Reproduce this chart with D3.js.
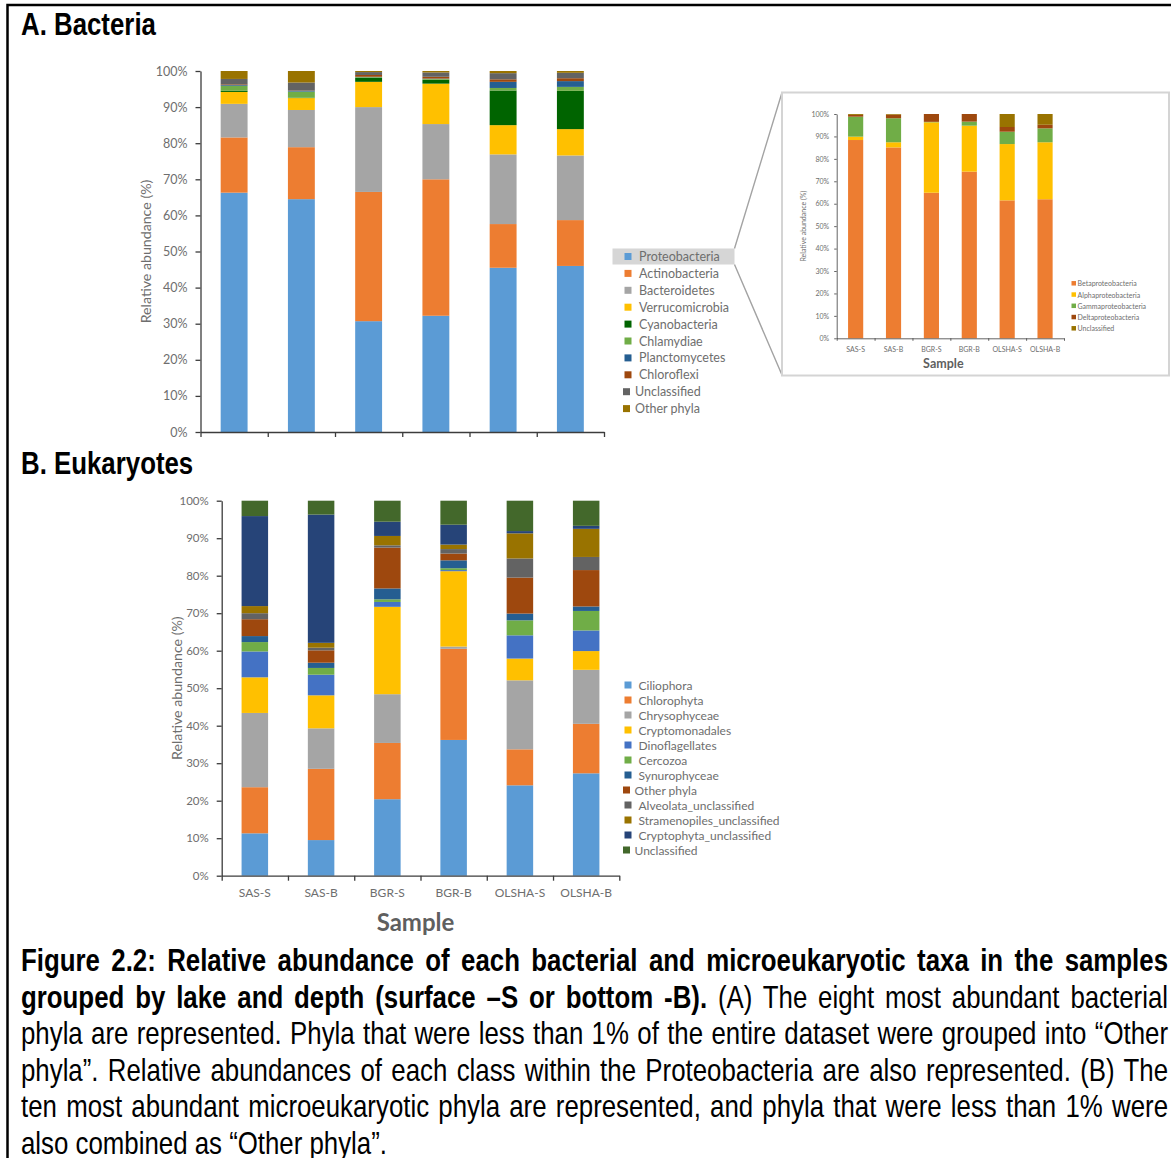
<!DOCTYPE html>
<html>
<head>
<meta charset="utf-8">
<script src="https://cdn.jsdelivr.net/npm/d3@7"></script>
<style>
  html, body { margin: 0; padding: 0; background: #fff; }
  svg { display: block; }
  .chart text { font-family: Lato, "Open Sans", sans-serif; fill: #6e6e6e; }
  .axis .domain, .axis line { stroke: #3c3c3c; stroke-width: 1.3; }
  .caption, .heading { font-family: "Liberation Sans", Arial, sans-serif; fill: #000; }
</style>
</head>
<body>
<svg id="fig" width="1171" height="1158"></svg>
<script>
// ---- data -------------------------------------------------------------
const samples = ["SAS-S", "SAS-B", "BGR-S", "BGR-B", "OLSHA-S", "OLSHA-B"];
const yTicks = [0, 10, 20, 30, 40, 50, 60, 70, 80, 90, 100];

const bacteriaPhyla = ["Proteobacteria", "Actinobacteria", "Bacteroidetes", "Verrucomicrobia",
  "Cyanobacteria", "Chlamydiae", "Planctomycetes", "Chloroflexi", "Unclassified", "Other phyla"];
const bacteriaColors = ["#5b9bd5", "#ed7d31", "#a5a5a5", "#ffc000", "#006400",
  "#70ad47", "#255e91", "#9e480e", "#636363", "#997300"];
// relative abundance (%), one row per phylum, one column per sample
const bacteriaValues = [
  [66.3, 64.5, 30.7, 32.2, 45.5, 46.0],
  [15.3, 14.4, 35.8, 37.8, 12.1, 12.7],
  [ 9.3, 10.3, 23.5, 15.3, 19.3, 17.9],
  [ 3.3,  3.3,  7.0, 11.2,  8.1,  7.3],
  [ 0.3,  0.1,  1.1,  1.1,  9.6, 10.6],
  [ 1.4,  1.7,  0.2,  0.2,  0.7,  1.1],
  [ 0.2,  0.3,  0.1,  0.1,  1.7,  1.6],
  [ 0.2,  0.1,  0.5,  0.5,  0.7,  0.8],
  [ 1.5,  2.1,  0.8,  1.2,  1.7,  1.5],
  [ 2.2,  3.2,  0.3,  0.4,  0.6,  0.5]
];

const proteoClasses = ["Betaproteobacteria", "Alphaproteobacteria", "Gammaproteobacteria",
  "Deltaproteobacteria", "Unclassified"];
const proteoColors = ["#ed7d31", "#ffc000", "#70ad47", "#9e480e", "#997300"];
const proteoValues = [
  [88.4, 85.1, 64.9, 74.3, 61.5, 62.0],
  [ 1.5,  2.3, 31.4, 20.5, 25.1, 25.4],
  [ 8.9, 10.7,  0.2,  1.8,  5.5,  6.2],
  [ 0.8,  1.6,  3.5,  3.4,  2.1,  1.6],
  [ 0.4,  0.3,  0.0,  0.0,  5.8,  4.8]
];

const eukTaxa = ["Ciliophora", "Chlorophyta", "Chrysophyceae", "Cryptomonadales", "Dinoflagellates",
  "Cercozoa", "Synurophyceae", "Other phyla", "Alveolata_unclassified", "Stramenopiles_unclassified",
  "Cryptophyta_unclassified", "Unclassified"];
const eukColors = ["#5b9bd5", "#ed7d31", "#a5a5a5", "#ffc000", "#4472c4", "#70ad47",
  "#255e91", "#9e480e", "#636363", "#997300", "#264478", "#43682b"];
const eukValues = [
  [11.3,  9.5, 20.4, 36.2, 24.1, 27.3],
  [12.3, 19.0, 15.0, 24.3,  9.6, 13.2],
  [19.8, 10.8, 13.0,  0.6, 18.4, 14.4],
  [ 9.5,  8.8, 23.3, 20.1,  5.8,  5.0],
  [ 6.9,  5.5,  1.3,  0.3,  6.2,  5.5],
  [ 2.5,  1.8,  0.7,  0.5,  4.0,  5.2],
  [ 1.6,  1.4,  2.9,  2.1,  1.8,  1.2],
  [ 4.5,  3.3, 10.9,  1.8,  9.6,  9.7],
  [ 1.6,  0.7,  0.6,  1.2,  5.1,  3.5],
  [ 1.9,  1.3,  2.5,  1.2,  6.7,  7.5],
  [24.0, 34.2,  3.8,  5.3,  0.6,  0.8],
  [ 4.1,  3.7,  5.6,  6.4,  8.1,  6.7]
];

const captionLines = [
  [["Figure 2.2: Relative abundance of each bacterial and microeukaryotic taxa in the samples", true]],
  [["grouped by lake and depth (surface \u2013S or bottom -B).", true], [" (A) The eight most abundant bacterial", false]],
  [["phyla are represented. Phyla that were less than 1% of the entire dataset were grouped into \u201cOther", false]],
  [["phyla\u201d. Relative abundances of each class within the Proteobacteria are also represented. (B) The", false]],
  [["ten most abundant microeukaryotic phyla are represented, and phyla that were less than 1% were", false]],
  [["also combined as \u201cOther phyla\u201d.", false]]
];

// ---- drawing ----------------------------------------------------------
const svg = d3.select("#fig");
const root = svg.append("g").attr("class", "chart");

function stackedBars(g, cfg) {
  const x = d3.scaleBand().domain(samples).range(cfg.xr).paddingInner(0.6).paddingOuter(0.3);
  const y = d3.scaleLinear().domain([0, 100]).range(cfg.yr);
  const rows = samples.map((s, i) => {
    const o = { sample: s };
    cfg.keys.forEach((k, j) => { o[k] = cfg.values[j][i]; });
    return o;
  });
  const series = d3.stack().keys(cfg.keys)(rows);

  g.append("g").selectAll("g").data(series).join("g")
    .attr("fill", (d, i) => cfg.colors[i])
    .selectAll("rect").data(d => d).join("rect")
    .attr("x", d => x(d.data.sample))
    .attr("width", x.bandwidth())
    .attr("y", d => y(d[1]))
    .attr("height", d => Math.max(0, y(d[0]) - y(d[1])));

  // y axis
  const ya = g.append("g").attr("class", "axis")
    .attr("transform", `translate(${cfg.xr[0]},0)`)
    .call(d3.axisLeft(y).tickValues(yTicks).tickFormat(d => d + "%")
      .tickSize(cfg.tick).tickSizeOuter(0).tickPadding(cfg.pad));
  ya.selectAll("text").style("font-size", cfg.tickFont + "px");
  if (cfg.thin) ya.selectAll(".domain, line").style("stroke-width", 0.8);

  // x axis with tick marks between the categories
  const xb = d3.scaleLinear().domain([0, samples.length]).range(cfg.xr);
  const xa = g.append("g").attr("class", "axis")
    .attr("transform", `translate(0,${cfg.yr[0]})`)
    .call(d3.axisBottom(xb).tickValues(d3.range(samples.length + 1)).tickFormat("")
      .tickSize(cfg.tick).tickSizeOuter(0));
  if (cfg.thin) xa.selectAll(".domain, line").style("stroke-width", 0.8);

  if (cfg.xLabels) {
    const xl = g.append("g")
      .attr("transform", `translate(0,${cfg.yr[0]})`)
      .call(d3.axisBottom(x).tickSize(0).tickPadding(cfg.xLabelPad));
    xl.select(".domain").remove();
    xl.selectAll("text").style("font-size", cfg.xLabelFont + "px").attr("fill", "#6e6e6e");
  }
  if (cfg.xTitle) {
    g.append("text")
      .attr("x", (cfg.xr[0] + cfg.xr[1]) / 2 + cfg.xTitle.dx)
      .attr("y", cfg.xTitle.y)
      .attr("text-anchor", "middle")
      .attr("dominant-baseline", "central")
      .style("font-size", cfg.xTitle.size + "px")
      .style("font-weight", "bold")
      .style("fill", "#5f5f5f")
      .text("Sample");
  }
  // y title
  g.append("text")
    .attr("transform", `translate(${cfg.yTitle.x},${(cfg.yr[0] + cfg.yr[1]) / 2}) rotate(-90)`)
    .attr("text-anchor", "middle")
    .attr("dominant-baseline", "central")
    .style("font-size", cfg.yTitle.size + "px")
    .text("Relative abundance (%)");
}

function legend(g, cfg) {
  // two entries are set a little tighter than the rest
  const tight = new Set(["Unclassified", "Other phyla"]);
  const items = g.append("g").selectAll("g").data(cfg.keys).join("g")
    .attr("transform", (d, i) => `translate(${cfg.x},${cfg.y + i * cfg.step})`);
  items.append("rect")
    .attr("x", d => (cfg.shiftTight && tight.has(d)) ? -1.5 : 0)
    .attr("y", -cfg.sw / 2)
    .attr("width", cfg.sw).attr("height", cfg.sw)
    .attr("fill", (d, i) => cfg.colors[i]);
  items.append("text")
    .attr("x", d => cfg.tx - ((cfg.shiftTight && tight.has(d)) ? 4 : 0))
    .attr("dominant-baseline", "central")
    .style("font-size", cfg.font + "px")
    .text(d => d);
}

// ---- Panel A: bacteria ----
const legA = { x: 624.5, y: 256.5, step: 16.9, sw: 7, tx: 14.5, font: 12.5 };
// highlight behind the Proteobacteria entry and the call-out to the class breakdown
root.append("rect")
  .attr("x", 612.5).attr("y", legA.y - 8).attr("width", 122).attr("height", 16)
  .attr("fill", "#d6d6d6");
root.append("path")
  .attr("d", `M734.5,${legA.y - 8}L782,92.5M734.5,${legA.y + 8}L782,375`)
  .attr("stroke", "#a3a3a3").attr("stroke-width", 1.4).attr("fill", "none");

stackedBars(root.append("g"), {
  keys: bacteriaPhyla, colors: bacteriaColors, values: bacteriaValues,
  xr: [200.5, 604], yr: [432, 71], tick: 5, pad: 8, tickFont: 12.5,
  yTitle: { x: 145.5, size: 14.2 }
});
legend(root, { ...legA, keys: bacteriaPhyla, colors: bacteriaColors, shiftTight: true });

// Proteobacteria classes
root.append("rect")
  .attr("x", 782).attr("y", 92.5).attr("width", 387).attr("height", 283)
  .attr("fill", "#fff").attr("stroke", "#d4d4d4").attr("stroke-width", 2);
stackedBars(root.append("g"), {
  keys: proteoClasses, colors: proteoColors, values: proteoValues,
  xr: [836.7, 1064], yr: [338.3, 114], tick: 2.5, pad: 5, tickFont: 7, thin: true,
  xLabels: true, xLabelPad: 9, xLabelFont: 7,
  xTitle: { y: 363, size: 12.5, dx: -7 },
  yTitle: { x: 803, size: 7 }
});
legend(root, { x: 1071.5, y: 283.3, step: 11.25, sw: 4.5, tx: 6, font: 7,
  keys: proteoClasses, colors: proteoColors });

// ---- Panel B: eukaryotes ----
stackedBars(root.append("g"), {
  keys: eukTaxa, colors: eukColors, values: eukValues,
  xr: [221.7, 619.3], yr: [875.7, 500.7], tick: 5, pad: 8, tickFont: 11.5,
  xLabels: true, xLabelPad: 13, xLabelFont: 12,
  xTitle: { y: 921, size: 24, dx: -5 },
  yTitle: { x: 176, size: 14.2 }
});
legend(root, { x: 624.5, y: 685, step: 15.0, sw: 7, tx: 14, font: 12,
  keys: eukTaxa, colors: eukColors, shiftTight: true });

// ---- headings, frame and caption (narrow face: Liberation Sans compressed to 82%) ----
const narrow = 0.82;
svg.append("path").attr("d", "M7.5,1158V5H1171").attr("fill", "none")
  .attr("stroke", "#000").attr("stroke-width", 2.5);
[["A. Bacteria", 35], ["B. Eukaryotes", 474]].forEach(([s, yb]) => {
  svg.append("text").attr("class", "heading")
    .attr("transform", `translate(21,${yb}) scale(${narrow},1)`)
    .style("font-size", "31.5px").style("font-weight", "bold").text(s);
});

const capLeft = 21, capRight = 1168, capTop = 971, capStep = 36.6;
captionLines.forEach((parts, i) => {
  const t = svg.append("text").attr("class", "caption")
    .attr("transform", `translate(${capLeft},${capTop + i * capStep}) scale(${narrow},1)`)
    .style("font-size", "31.5px").attr("xml:space", "preserve");
  parts.forEach(([s, bold]) => {
    t.append("tspan").style("font-weight", bold ? "bold" : "normal").text(s);
  });
  if (i < captionLines.length - 1) {
    // justify: spread the remaining width over the word gaps
    const target = (capRight - capLeft) / narrow;
    const natural = t.node().getComputedTextLength();
    const spaces = parts.map(p => p[0]).join("").split(" ").length - 1;
    t.style("word-spacing", ((target - natural) / spaces) + "px");
  }
});
</script>
</body>
</html>
